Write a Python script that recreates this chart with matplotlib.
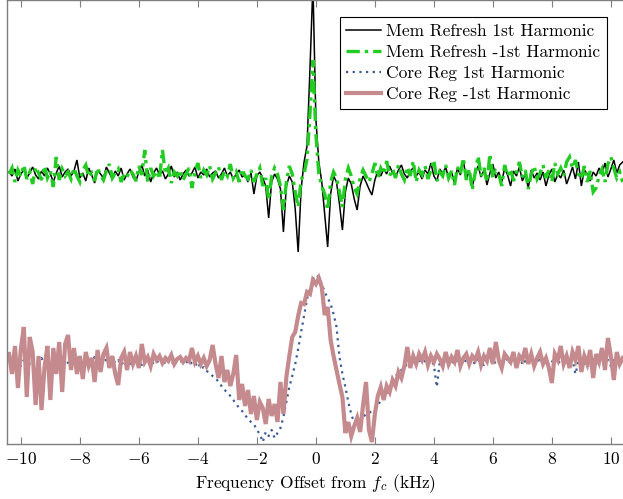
import numpy as np
import matplotlib
matplotlib.use("Agg")
import matplotlib.pyplot as plt

plt.rcParams['font.family'] = ['cmr10', 'DejaVu Serif']
plt.rcParams['mathtext.fontset'] = 'cm'
plt.rcParams['axes.formatter.use_mathtext'] = True
plt.rcParams['axes.unicode_minus'] = True

# frequency offset grid (kHz)
freq = np.round(np.arange(-104, 105) / 10.0, 1)

mem_refresh_1st = [
    272, 268, 275, 263, 270, 274, 266, 271, 277, 269,
    265, 273, 268, 276, 270, 262, 271, 278, 267, 272,
    275, 268, 273, 284, 266, 271, 263, 276, 269, 261,
    274, 270, 266, 277, 271, 265, 273, 268, 276, 264,
    270, 275, 267, 263, 272, 279, 268, 274, 262, 271,
    276, 269, 273, 265, 270, 278, 267, 272, 264, 270,
    274, 268, 271, 277, 266, 272, 269, 275, 267, 271,
    273, 266, 270, 276, 268, 272, 265, 270, 274, 267,
    269, 262, 271, 250, 268, 272, 266, 258, 226, 262,
    270, 265, 255, 212, 258, 268, 262, 235, 192, 255,
    282, 298, 375, 460, 325, 282, 262, 230, 197, 250,
    268, 262, 240, 214, 252, 266, 260, 245, 234, 258,
    268, 262, 255, 249, 264, 273, 268, 275, 270, 278,
    271, 267, 274, 279, 270, 266, 273, 276, 268, 272,
    265, 274, 270, 281, 268, 263, 275, 270, 277, 266,
    272, 261, 276, 269, 283, 265, 273, 257, 270, 278,
    267, 274, 259, 271, 280, 266, 272, 262, 276, 269,
    258, 273, 268, 277, 263, 270, 256, 274, 266, 271,
    264, 272, 258, 269, 275, 262, 270, 266, 274, 260,
    268, 277, 265, 282, 258, 274, 270, 263, 272, 268,
    276, 270, 281, 267, 275, 284, 271, 279, 282,
]

mem_refresh_m1st = [
    270, 276, 262, 274, 268, 279, 265, 272, 260, 277,
    271, 264, 278, 266, 273, 257, 287, 264, 275, 268,
    272, 265, 276, 268, 262, 274, 279, 267, 271, 263,
    276, 269, 264, 273, 280, 266, 271, 275, 262, 270,
    267, 274, 270, 263, 278, 269, 294, 262, 276, 268,
    273, 265, 294, 270, 276, 261, 272, 268, 274, 264,
    270, 276, 256, 272, 281, 266, 274, 269, 278, 265,
    271, 277, 264, 273, 268, 280, 266, 272, 262, 275,
    268, 265, 274, 262, 270, 276, 258, 266, 244, 268,
    276, 270, 258, 234, 262, 278, 270, 252, 237, 264,
    270, 285, 330, 384, 310, 270, 258, 250, 234, 262,
    272, 266, 252, 237, 265, 276, 268, 256, 250, 266,
    274, 268, 262, 270, 281, 266, 276, 270, 283, 268,
    275, 266, 279, 270, 264, 277, 268, 283, 262, 274,
    269, 278, 265, 274, 284, 263, 272, 268, 279, 266,
    273, 259, 277, 270, 286, 264, 275, 254, 271, 288,
    268, 276, 262, 290, 266, 273, 270, 258, 279, 268,
    275, 263, 272, 282, 267, 274, 255, 270, 278, 265,
    271, 279, 266, 274, 262, 281, 270, 276, 268, 282,
    287, 276, 284, 270, 265, 278, 262, 273, 252, 256,
    268, 275, 262, 280, 287, 276, 266, 272, 262,
]

core_reg_1st = [
    84, 80, 86, 82, 78, 84, 88, 80, 83, 79,
    82, 86, 80, 84, 81, 78, 85, 83, 80, 86,
    81, 84, 78, 88, 82, 80, 85, 79, 83, 87,
    80, 84, 90, 82, 78, 86, 81, 84, 79, 83,
    85, 80, 83, 88, 81, 79, 84, 82, 86, 80,
    83, 81, 86, 79, 84, 82, 80, 85, 82, 83,
    81, 84, 80, 78, 82, 75, 77, 73, 71, 68,
    66, 62, 58, 54, 52, 48, 44, 40, 36, 33,
    29, 25, 22, 20, 14, 10, 2, 12, 8, 14,
    6, 11, 16, 27, 42, 57, 68, 80, 95, 112,
    128, 145, 155, 165, 169, 167, 160, 152, 146, 140,
    130, 117, 87, 70, 57, 42, 30, 21, 20, 24,
    27, 30, 31, 33, 35, 38, 44, 49, 51, 56,
    62, 68, 71, 74, 77, 80, 78, 82, 80, 84,
    81, 83, 80, 84, 79, 57, 82, 80, 85, 78,
    83, 80, 84, 82, 79, 85, 81, 83, 80, 84,
    82, 79, 84, 81, 85, 80, 83, 78, 82, 86,
    80, 84, 81, 92, 79, 83, 82, 85, 80, 83,
    84, 80, 83, 79, 82, 86, 80, 84, 81, 83,
    79, 84, 70, 82, 86, 80, 83, 76, 85, 80,
    83, 90, 80, 84, 78, 86, 82, 80, 84,
]

core_reg_m1st = [
    90, 70, 98, 56, 95, 117, 47, 107, 92, 39,
    88, 34, 76, 98, 44, 96, 70, 102, 52, 100,
    109, 74, 96, 70, 88, 65, 92, 78, 86, 62,
    94, 72, 90, 96, 76, 88, 70, 59, 86, 92,
    74, 92, 80, 88, 76, 100, 82, 87, 78, 90,
    84, 88, 81, 86, 83, 89, 80, 85, 87, 82,
    86, 83, 96, 82, 88, 80, 86, 78, 84, 99,
    80, 66, 88, 62, 74, 58, 70, 89, 44, 60,
    38, 54, 30, 48, 24, 42, 36, 20, 45, 28,
    40, 22, 62, 30, 67, 88, 107, 112, 128, 141,
    140, 152, 150, 164, 160, 166, 157, 129, 137, 104,
    88, 74, 60, 47, 11, 22, 8, 18, 26, 12,
    39, 62, 14, 2, 30, 48, 57, 44, 58, 52,
    64, 58, 72, 66, 78, 97, 76, 88, 80, 90,
    84, 92, 79, 88, 82, 90, 85, 78, 92, 80,
    87, 82, 94, 78, 86, 90, 80, 88, 84, 92,
    79, 88, 83, 96, 80, 102, 84, 76, 90, 86,
    82, 92, 76, 88, 84, 96, 80, 90, 78, 86,
    92, 80, 86, 76, 61, 90, 84, 98, 80, 88,
    76, 92, 84, 98, 72, 88, 80, 94, 66, 90,
    82, 96, 74, 106, 88, 64, 92, 80, 86,
]

labels = ["Mem Refresh 1st Harmonic", "Mem Refresh -1st Harmonic",
          "Core Reg 1st Harmonic", "Core Reg -1st Harmonic"]
xticks = [-10, -8, -6, -4, -2, 0, 2, 4, 6, 8, 10]

W, H = 623, 499
fig = plt.figure(figsize=(W / 100, H / 100), dpi=100)
xmin, xmax = -10.47, 10.47
ppu = 29.5
ax_left = 7
ax_w = (xmax - xmin) * ppu
ax_bottom = 499 - 444
ax_h = 444
ax = fig.add_axes([ax_left / W, ax_bottom / H, ax_w / W, ax_h / H])

FS = 12.5
ax.plot(freq, mem_refresh_1st, color='black', lw=1.1, label=labels[0],
        solid_joinstyle='miter')
ax.plot(freq, mem_refresh_m1st, color='#22cc22', lw=2.4, dashes=(4, 1.5, 1, 1.5),
        dash_joinstyle='miter', label=labels[1])
ax.plot(freq, core_reg_1st, color='#3b5a98', lw=1.6, linestyle=(0, (1, 2)),
        label=labels[2])
ax.plot(freq, core_reg_m1st, color='#c48a8e', lw=3.0, label=labels[3],
        solid_joinstyle='miter')

ax.set_xlim(xmin, xmax)
ax.set_ylim(0, 444)
ax.set_xticks(xticks)
ax.set_yticks([])
ax.tick_params(axis='x', direction='in', top=True, length=5, width=0.8,
               color='#7f7f7f', labelsize=FS, pad=5)
for s in ax.spines.values():
    s.set_color('#7f7f7f')
    s.set_linewidth(1.0)

ax.set_xlabel("Frequency Offset from $f_c$ (kHz)", fontsize=FS, labelpad=4)

leg = ax.legend(loc='upper right', bbox_to_anchor=(607 / W, 1 - 17 / H),
                bbox_transform=fig.transFigure, fontsize=FS, frameon=True,
                fancybox=False, framealpha=1, edgecolor='black',
                handlelength=2.0, handletextpad=0.3, labelspacing=0.33,
                borderpad=0.38, borderaxespad=0)
leg.get_frame().set_linewidth(0.8)

fig.savefig("out.png", dpi=100)
